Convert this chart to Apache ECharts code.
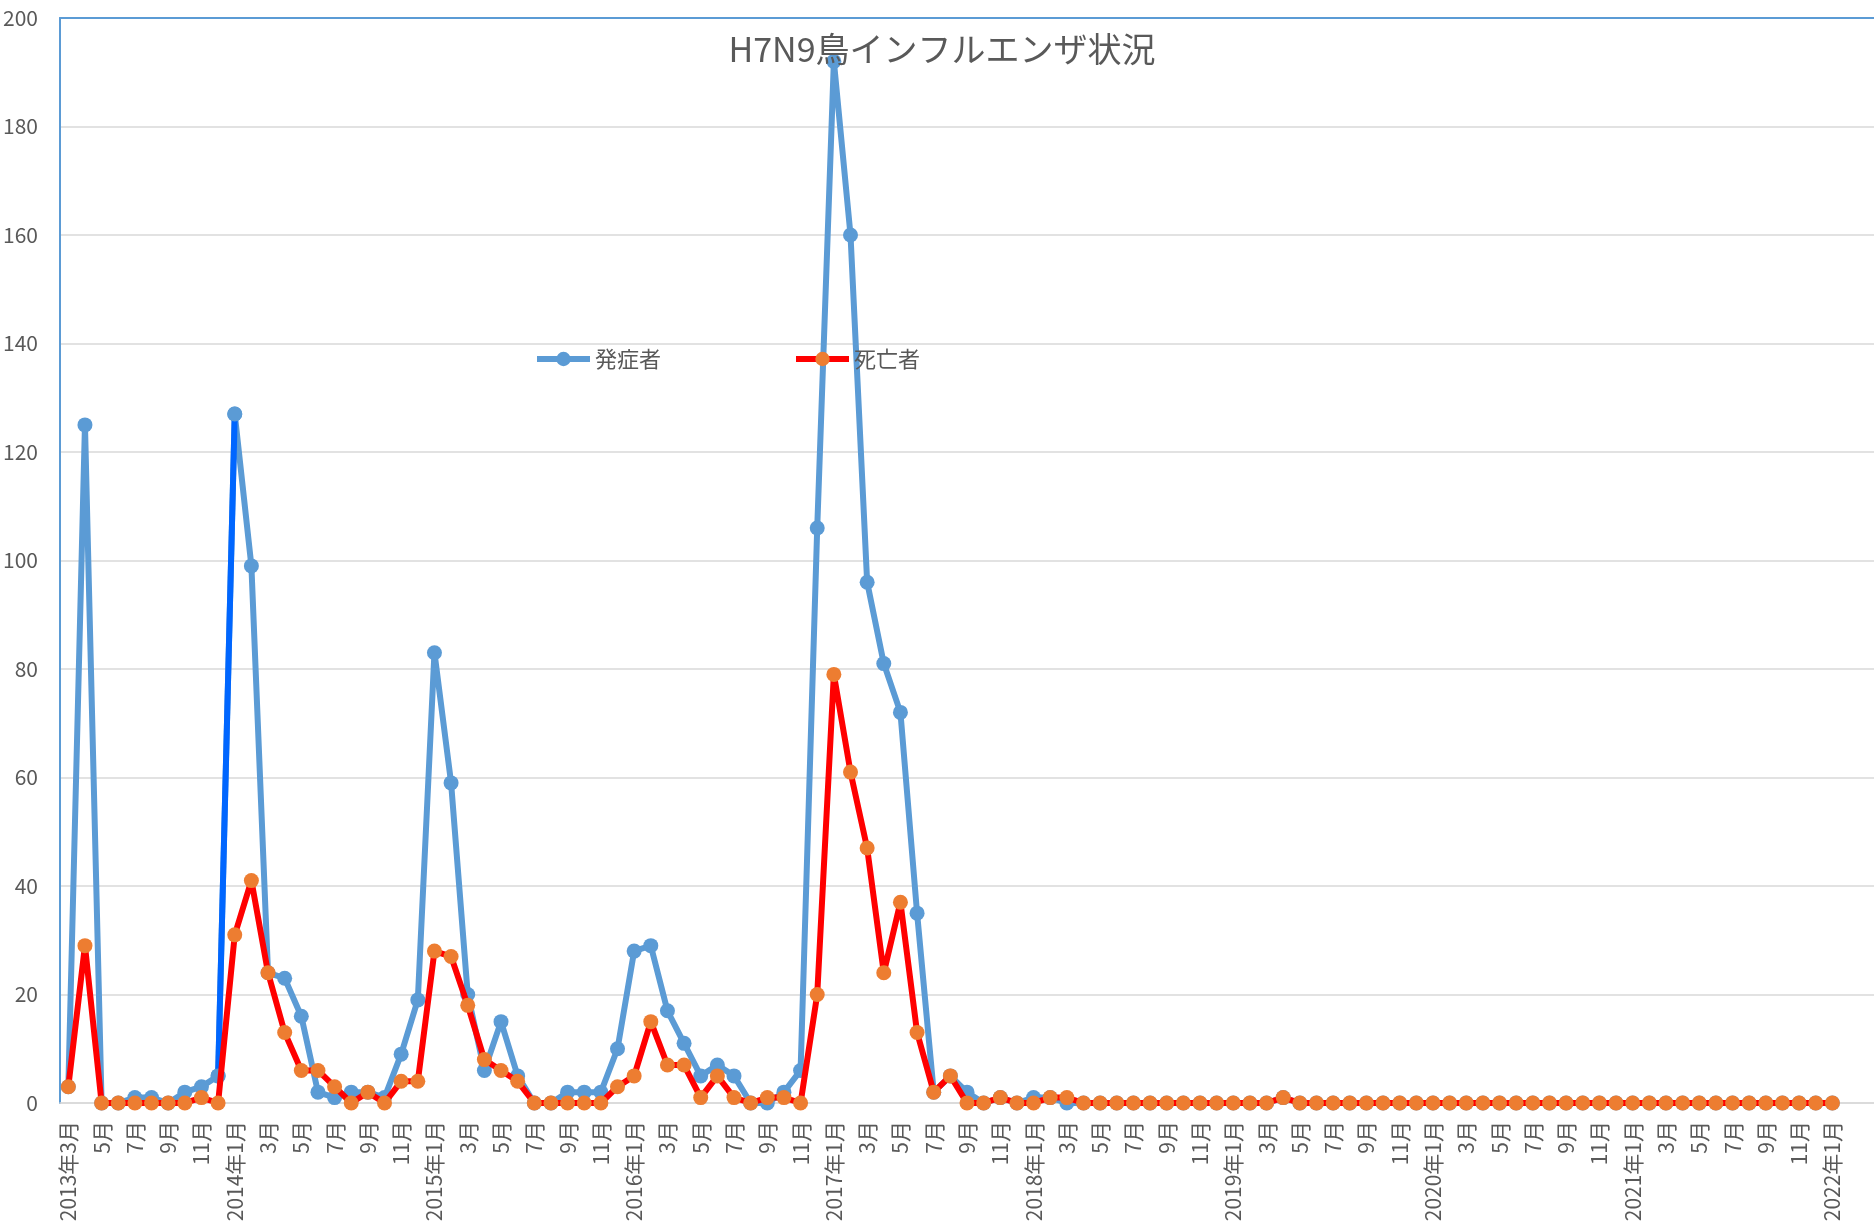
<!DOCTYPE html>
<html>
<head>
<meta charset="utf-8">
<title>H7N9鳥インフルエンザ状況</title>
<script src="https://cdn.jsdelivr.net/npm/echarts@6/dist/echarts.min.js"></script>
<style>
  html, body { margin: 0; padding: 0; background: #fff; }
  #chart { width: 1874px; height: 1232px; }
</style>
</head>
<body>
<div id="chart"></div>
<script>
// months 2013年3月 .. 2022年1月, plus two empty slots the plot runs into
var months = [
  '2013年3月','4月','5月','6月','7月','8月','9月','10月','11月','12月',
  '2014年1月','2月','3月','4月','5月','6月','7月','8月','9月','10月','11月','12月',
  '2015年1月','2月','3月','4月','5月','6月','7月','8月','9月','10月','11月','12月',
  '2016年1月','2月','3月','4月','5月','6月','7月','8月','9月','10月','11月','12月',
  '2017年1月','2月','3月','4月','5月','6月','7月','8月','9月','10月','11月','12月',
  '2018年1月','2月','3月','4月','5月','6月','7月','8月','9月','10月','11月','12月',
  '2019年1月','2月','3月','4月','5月','6月','7月','8月','9月','10月','11月','12月',
  '2020年1月','2月','3月','4月','5月','6月','7月','8月','9月','10月','11月','12月',
  '2021年1月','2月','3月','4月','5月','6月','7月','8月','9月','10月','11月','12月',
  '2022年1月','2月','3月'
]

// 発症者
var cases = [
  3,125,0,0,1,1,0,2,3,5,
  127,99,24,23,16,2,1,2,2,1,9,19,
  83,59,20,6,15,5,0,0,2,2,2,10,
  28,29,17,11,5,7,5,0,0,2,6,106,
  192,160,96,81,72,35,2,5,2,0,1,0,
  1,1,0,0,0,0,0,0,0,0,0,0,
  0,0,0,1,0,0,0,0,0,0,0,0,
  0,0,0,0,0,0,0,0,0,0,0,0,
  0,0,0,0,0,0,0,0,0,0,0,0,
  0
]

// 死亡者
var deaths = [
  3,29,0,0,0,0,0,0,1,0,
  31,41,24,13,6,6,3,0,2,0,4,4,
  28,27,18,8,6,4,0,0,0,0,0,3,
  5,15,7,7,1,5,1,0,1,1,0,20,
  79,61,47,24,37,13,2,5,0,0,1,0,
  0,1,1,0,0,0,0,0,0,0,0,0,
  0,0,0,1,0,0,0,0,0,0,0,0,
  0,0,0,0,0,0,0,0,0,0,0,0,
  0,0,0,0,0,0,0,0,0,0,0,0,
  0
]

var lastIdx = cases.length - 1
// the 2013年12月 -> 2014年1月 segment is drawn in a brighter blue
var hiSeg = cases.map(function (v, i) { return (i === 9 || i === 10) ? v : null })

var font = 'Noto Sans CJK JP'
var grey = '#595959'

var myChart = echarts.init(document.getElementById('chart'))
myChart.setOption({
  animation: false,
  textStyle: { fontFamily: font },
  title: {
    text: 'H7N9鳥インフルエンザ状況',
    left: 937,
    top: 27,
    textAlign: 'center',
    textStyle: { fontSize: 34, fontWeight: 'normal', color: grey, fontFamily: font }
  },
  legend: {
    data: ['発症者', '死亡者'],
    left: 529,
    top: 343,
    itemWidth: 53,
    itemHeight: 18,
    itemGap: 132,
    lineStyle: { width: 6 },
    textStyle: { fontSize: 22, color: grey, fontFamily: font }
  },
  grid: { left: 60, right: -4, top: 18, bottom: 129, containLabel: false },
  xAxis: [{
    type: 'category',
    data: months,
    boundaryGap: true,
    axisLine: { lineStyle: { color: '#d9d9d9', width: 1.5 } },
    axisTick: { show: false },
    axisLabel: {
      rotate: 90,
      margin: 18,
      fontSize: 21,
      color: grey,
      fontFamily: font,
      interval: function (i) { return i % 2 === 0 && i <= lastIdx }
    }
  }, {
    type: 'category',
    data: months,
    position: 'top',
    axisLine: { lineStyle: { color: '#5b9bd5', width: 2 } },
    axisTick: { show: false },
    axisLabel: { show: false }
  }],
  yAxis: {
    type: 'value',
    min: 0,
    max: 200,
    interval: 20,
    axisLine: { show: true, lineStyle: { color: '#5b9bd5', width: 2 } },
    axisTick: { show: false },
    axisLabel: { fontSize: 21, color: grey, margin: 22, fontFamily: font },
    splitLine: { lineStyle: { color: '#d9d9d9', width: 1.5 } }
  },
  series: [{
    name: '発症者',
    type: 'line',
    data: cases,
    z: 2,
    symbol: 'circle',
    symbolSize: 15,
    showAllSymbol: true,
    lineStyle: { color: '#5b9bd5', width: 6 },
    itemStyle: { color: '#5b9bd5' }
  }, {
    name: 'seg',
    type: 'line',
    data: hiSeg,
    z: 3,
    symbol: 'circle',
    symbolSize: 15,
    showAllSymbol: true,
    lineStyle: { color: '#0066ff', width: 6 },
    itemStyle: { color: '#5b9bd5' }
  }, {
    name: '死亡者',
    type: 'line',
    data: deaths,
    z: 4,
    symbol: 'circle',
    symbolSize: 15,
    showAllSymbol: true,
    lineStyle: { color: '#ff0000', width: 6 },
    itemStyle: { color: '#ed7d31' }
  }]
})
</script>
</body>
</html>
